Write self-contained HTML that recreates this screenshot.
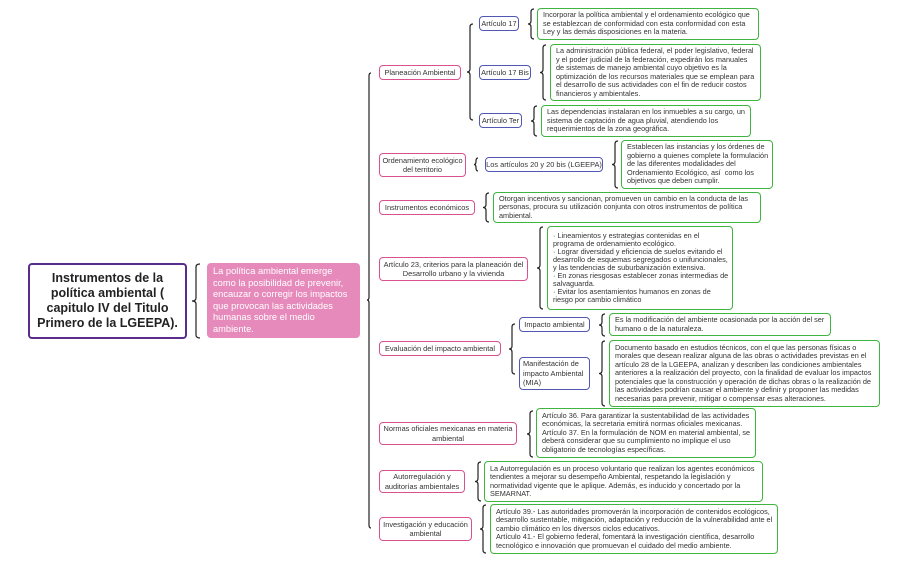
<!DOCTYPE html>
<html><head><meta charset="utf-8"><style>
body{margin:0;width:908px;height:562px;background:#fff;position:relative;overflow:hidden;font-family:"Liberation Sans",sans-serif;color:#333}
.b{position:absolute;box-sizing:border-box;background:#fff;border-radius:4px;font-size:7.3px;line-height:8.5px;display:flex;align-items:center}
.p{border:1.3px solid #d9528f;justify-content:center;text-align:center;font-size:7.4px;line-height:9.5px}
.u{border:1.3px solid #5257b3;justify-content:center;text-align:center;font-size:7.4px;line-height:9.5px}
.n{white-space:nowrap}
.g{border:1.3px solid #3fb53f;padding:0 3px 0 5px}
svg{position:absolute;left:0;top:0}
</style></head><body>
<svg width="908" height="562" id="s"></svg>
<div class="b" style="left:28px;top:263px;width:159px;height:76px;border:2px solid #5a2d8c;font-size:12.5px;line-height:15px;font-weight:bold;justify-content:center;text-align:center;color:#222">Instrumentos de la política ambiental ( capitulo IV del Titulo Primero de la LGEEPA).</div>
<div class="b" style="left:207px;top:263px;width:153px;height:75px;background:#e68abb;color:#fff;font-size:9.3px;line-height:11.5px;padding:0 6px">La política ambiental emerge como la posibilidad de prevenir, encauzar o corregir los impactos que provocan las actividades humanas sobre el medio ambiente.</div>

<div class="b p n" style="left:379px;top:65px;width:82px;height:15px">Planeación Ambiental</div>
<div class="b p" style="left:379px;top:153px;width:87px;height:24px">Ordenamiento ecológico del territorio</div>
<div class="b p n" style="left:379px;top:200px;width:96px;height:15px">Instrumentos económicos</div>
<div class="b p" style="left:379px;top:257px;width:149px;height:24px">Artículo 23, criterios para la planeación del Desarrollo urbano y la vivienda</div>
<div class="b p n" style="left:379px;top:341px;width:122px;height:15px">Evaluación del impacto ambiental</div>
<div class="b p" style="left:379px;top:422px;width:138px;height:23px">Normas oficiales mexicanas en materia ambiental</div>
<div class="b p" style="left:379px;top:470px;width:86px;height:23px">Autorregulación y auditorías ambientales</div>
<div class="b p" style="left:379px;top:517px;width:93px;height:24px">Investigación y educación ambiental</div>

<div class="b u n" style="left:479px;top:16px;width:40px;height:15px">Artículo 17</div>
<div class="b u n" style="left:479px;top:65px;width:52px;height:15px">Artículo 17 Bis</div>
<div class="b u n" style="left:479px;top:113px;width:43px;height:15px">Artículo Ter</div>
<div class="b u n" style="left:485px;top:157px;width:118px;height:15px">Los artículos 20 y 20 bis (LGEEPA)</div>
<div class="b u n" style="left:519px;top:317px;width:71px;height:15px">Impacto ambiental</div>
<div class="b u" style="left:519px;top:357px;width:71px;height:33px;justify-content:flex-start;text-align:left;padding-left:3px">Manifestación de impacto Ambiental (MIA)</div>

<div class="b g" style="left:537px;top:8px;width:222px;height:32px">Incorporar la política ambiental y el ordenamiento ecológico que se establezcan de conformidad con esta conformidad con esta Ley y las demás disposiciones en la materia.</div>
<div class="b g" style="left:550px;top:44px;width:211px;height:57px">La administración pública federal, el poder legislativo, federal y el poder judicial de la federación, expedirán los manuales de sistemas de manejo ambiental cuyo objetivo es la optimización de los recursos materiales que se emplean para el desarrollo de sus actividades con el fin de reducir costos financieros y ambientales.</div>
<div class="b g" style="left:541px;top:105px;width:210px;height:32px">Las dependencias instalaran en los inmuebles a su cargo, un sistema de captación de agua pluvial, atendiendo los requerimientos de la zona geográfica.</div>
<div class="b g" style="left:621px;top:140px;width:152px;height:49px">Establecen las instancias y los órdenes de gobierno a quienes complete la formulación de las diferentes modalidades del Ordenamiento Ecológico, así &nbsp;como los objetivos que deben cumplir.</div>
<div class="b g" style="left:493px;top:192px;width:268px;height:31px">Otorgan incentivos y sancionan, promueven un cambio en la conducta de las personas, procura su utilización conjunta con otros instrumentos de política ambiental.</div>
<div class="b g" style="left:547px;top:226px;width:186px;height:84px;line-height:8.1px;padding-right:1px">· Lineamientos y estrategias contenidas en el programa de ordenamiento ecológico.<br>· Lograr diversidad y eficiencia de suelos evitando el desarrollo de esquemas segregados o unifuncionales, y las tendencias de suburbanización extensiva.<br>· En zonas riesgosas establecer zonas intermedias de salvaguarda.<br>· Evitar los asentamientos humanos en zonas de riesgo por cambio climático</div>
<div class="b g" style="left:609px;top:313px;width:222px;height:23px">Es la modificación del ambiente ocasionada por la acción del ser humano o de la naturaleza.</div>
<div class="b g" style="left:609px;top:340px;width:271px;height:67px">Documento basado en estudios técnicos, con el que las personas físicas o morales que desean realizar alguna de las obras o actividades previstas en el artículo 28 de la LGEEPA, analizan y describen las condiciones ambientales anteriores a la realización del proyecto, con la finalidad de evaluar los impactos potenciales que la construcción y operación de dichas obras o la realización de las actividades podrían causar el ambiente y definir y proponer las medidas necesarias para prevenir, mitigar o compensar esas alteraciones.</div>
<div class="b g" style="left:536px;top:408px;width:220px;height:50px">Artículo 36. Para garantizar la sustentabilidad de las actividades económicas, la secretaria emitirá normas oficiales mexicanas. Artículo 37. En la formulación de NOM en material ambiental, se deberá considerar que su cumplimiento no implique el uso obligatorio de tecnologías específicas.</div>
<div class="b g" style="left:484px;top:461px;width:279px;height:41px">La Autorregulación es un proceso voluntario que realizan los agentes económicos tendientes a mejorar su desempeño Ambiental, respetando la legislación y normatividad vigente que le aplique. Además, es inducido y concertado por la SEMARNAT.</div>
<div class="b g" style="left:490px;top:504px;width:288px;height:50px">Artículo 39.- Las autoridades promoverán la incorporación de contenidos ecológicos, desarrollo sustentable, mitigación, adaptación y reducción de la vulnerabilidad ante el cambio climático en los diversos ciclos educativos.<br>Artículo 41.- El gobierno federal, fomentará la investigación científica, desarrollo tecnológico e innovación que promuevan el cuidado del medio ambiente.</div>
<script>
var s=document.getElementById('s'),h='';
function br(x,y1,y2,w,ym){ym=ym||(y1+y2)/2;var r=3,x1=x+w,xt=x-w;
h+='<path d="M'+x1+','+y1+' Q'+x+','+y1+' '+x+','+(y1+r)+' L'+x+','+(ym-r)+' Q'+x+','+ym+' '+xt+','+ym+' Q'+x+','+ym+' '+x+','+(ym+r)+' L'+x+','+(y2-r)+' Q'+x+','+y2+' '+x1+','+y2+'" fill="none" stroke="#222" stroke-width="1.2"/>';}
br(196,264,338,4);
br(369,73,528,2,300);
br(470,24,120,3,72);
br(531,9,39,3);
br(543,45,100,3);
br(534,106,136,3);
br(476,158,171,2);
br(615,141,188,3);
br(486,193,222,3);
br(540,227,309,3);
br(512,324,374,3);
br(602,314,336,3);
br(602,341,406,3);
br(530,411,457,3);
br(478,462,501,3);
br(483,505,553,3);
s.innerHTML=h;
</script>
</body></html>
